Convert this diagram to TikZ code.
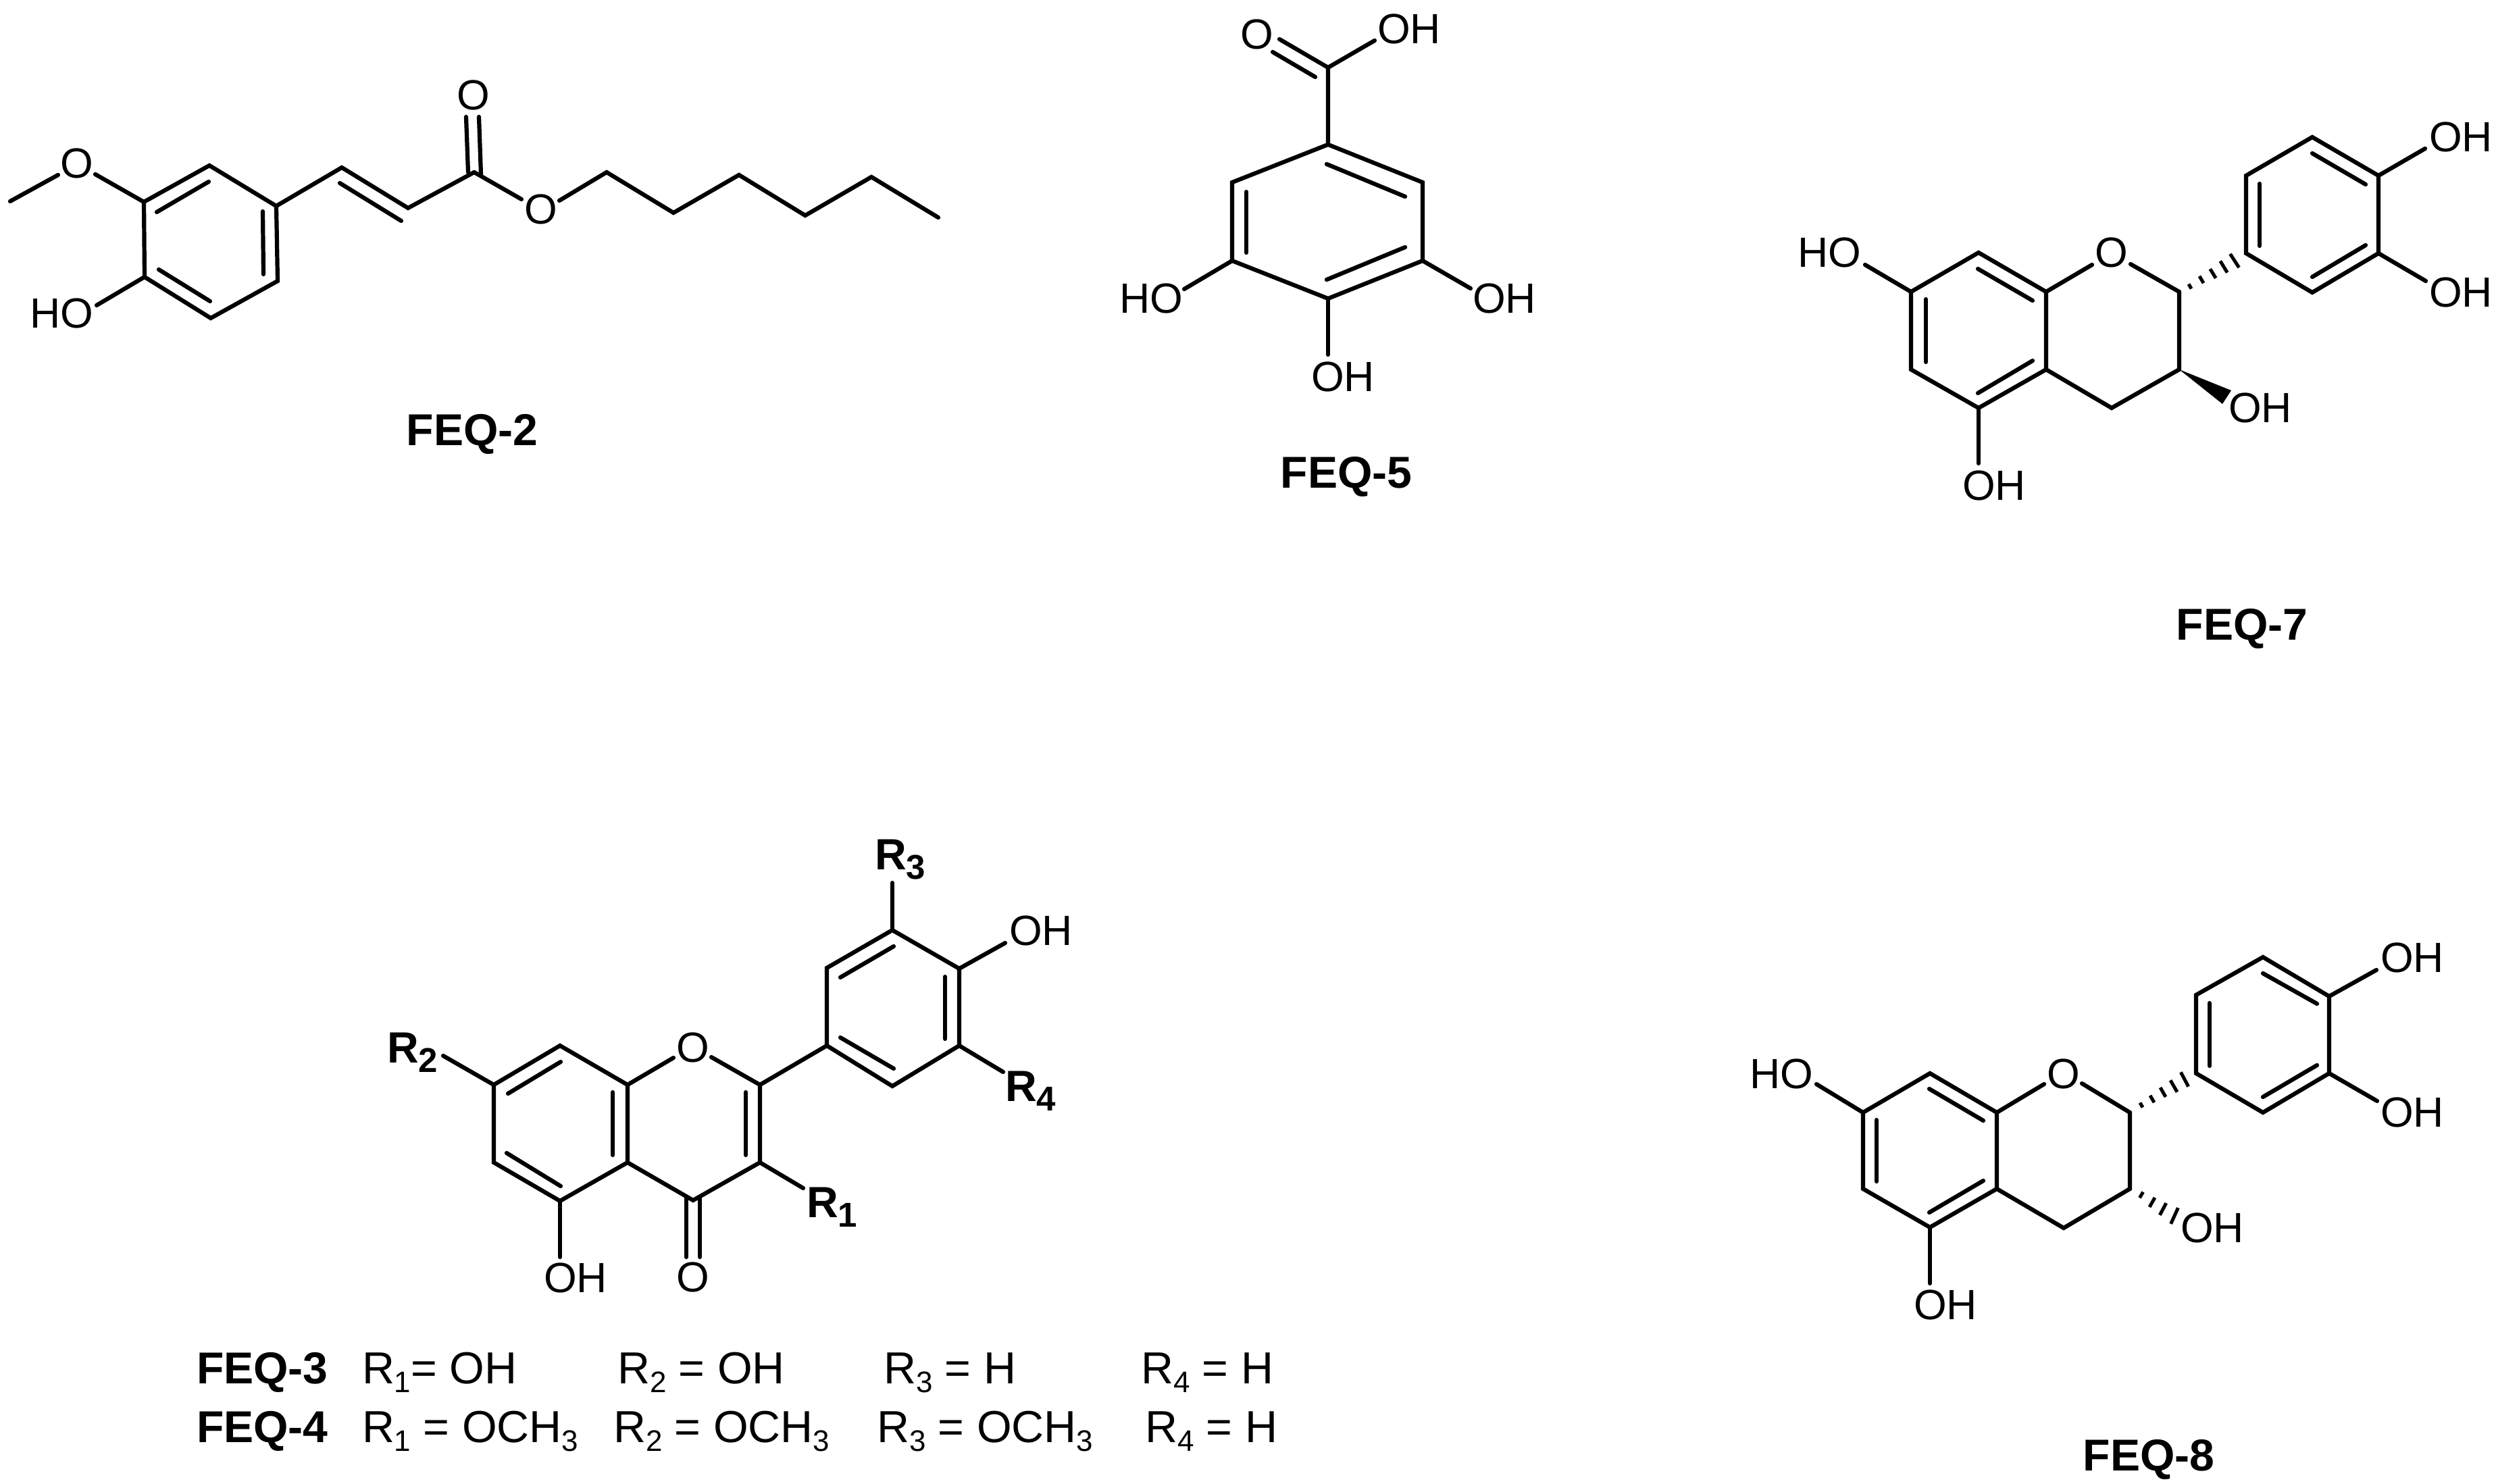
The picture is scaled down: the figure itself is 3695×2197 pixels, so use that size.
\documentclass[tikz,border=0pt]{standalone}
\usepackage{fontspec}
\setmainfont{Liberation Sans}
\usetikzlibrary{calc}
\tikzset{
  bond/.style={draw=black,line width=0.062cm,line cap=round,line join=miter,miter limit=3},
  hashbond/.style={draw=black,line width=0.05cm,line cap=butt},
  wedgebond/.style={fill=black,draw=none},
  atom/.style={anchor=base,inner sep=0pt,outer sep=0pt,yshift=0.02cm,font=\fontsize{17.8}{20}\selectfont},
  title/.style={anchor=base,inner sep=0pt,outer sep=0pt,xshift=-0.04cm,font=\fontsize{18.8}{20}\selectfont\bfseries},
  rlabel/.style={anchor=base west,inner sep=0pt,outer sep=0pt,xshift=-0.07cm,font=\fontsize{18.4}{20}\selectfont\bfseries},
  rowtitle/.style={anchor=base west,inner sep=0pt,outer sep=0pt,xshift=-0.05cm,font=\fontsize{18.8}{20}\selectfont\bfseries},
  rowlabel/.style={anchor=base west,inner sep=0pt,outer sep=0pt,xshift=-0.09cm,font=\fontsize{18.9}{20}\selectfont}
}
% parallel inner line of a double bond, with its two ends named
\newcommand{\dbl}[5]{\coordinate (#1s) at (#2,#3); \coordinate (#1e) at (#4,#5); \draw[bond] (#1s) -- (#1e);}
% bond from a named atom to a named free end
\newcommand{\stub}[4]{\coordinate (#1) at (#3,#4); \draw[bond] (#2) -- (#1);}
% hashed wedge: list of x/y/half length, perpendicular to a--b
\newcommand{\hashes}[3]{\foreach \hx/\hy/\hh in {#3}{\coordinate (hp) at (\hx,\hy); \draw[hashbond] ($(hp)!\hh cm!90:(#2)$) -- ($(hp)!\hh cm!-90:(#2)$);}}
\newcommand{\bigsub}[1]{\raisebox{-0.14cm}{\fontsize{14.5}{14}\selectfont #1}}
\newcommand{\smallsub}[1]{\raisebox{-0.13cm}{\fontsize{12.5}{12}\selectfont #1}}
\begin{document}
\begin{tikzpicture}[x=0.01cm,y=-0.01cm]
\useasboundingbox[fill=white] (0,0) rectangle (3695,2197);

%% FEQ-2
\coordinate (a1) at (213,299); \coordinate (a2) at (310,245); \coordinate (a3) at (409,305);
\coordinate (a4) at (411,416); \coordinate (a5) at (312,471); \coordinate (a6) at (214,410);
\draw[bond] (a1) -- (a2) -- (a3) -- (a4) -- (a5) -- (a6) -- cycle;
\dbl{ai1}{309}{269}{232}{314}
\dbl{ai2}{389}{313}{390}{406}
\dbl{ai3}{235}{399}{311}{446}
\coordinate (a7) at (506,248); \coordinate (a8) at (604,308); \coordinate (a9) at (702,255);
\draw[bond] (a3) -- (a7) -- (a8) -- (a9);
\dbl{ai4}{503}{271}{594}{327}
\dbl{ai5}{690}{173}{693}{255}
\dbl{ai6}{709}{173}{712}{258}
\stub{ae1}{a9}{772}{295}
\coordinate (a10) at (828,297); \coordinate (a11) at (898,255); \coordinate (a12) at (997,315);
\coordinate (a13) at (1094,259); \coordinate (a14) at (1192,319); \coordinate (a15) at (1290,262); \coordinate (a16) at (1389,322);
\draw[bond] (a10) -- (a11) -- (a12) -- (a13) -- (a14) -- (a15) -- (a16);
\stub{ae2}{a1}{141}{258}
\coordinate (ame) at (15,298); \coordinate (ame2) at (86,259);
\draw[bond] (ame) -- (ame2);
\stub{ae3}{a6}{143}{452}
\node[atom] (aO1) at (114,266) {O};
\node[atom] (aO2) at (701,165) {O};
\node[atom] (aO3) at (801,334) {O};
\node[atom] (aHO) at (91,488) {HO};
\node[title] (aT) at (703,659) {FEQ-2};

%% FEQ-5
\coordinate (b1) at (1966,214); \coordinate (b2) at (2106,270); \coordinate (b3) at (2106,386);
\coordinate (b4) at (1966,442); \coordinate (b5) at (1824,386); \coordinate (b6) at (1824,270);
\draw[bond] (b1) -- (b2) -- (b3) -- (b4) -- (b5) -- (b6) -- cycle;
\dbl{bi1}{1964}{243}{2080}{291}
\dbl{bi2}{1845}{284}{1845}{374}
\dbl{bi3}{1964}{414}{2080}{366}
\coordinate (b7) at (1966,100);
\coordinate (be0) at (1894,58);
\draw[bond] (b1) -- (b7) -- (be0);
\dbl{bi4}{1884}{77}{1947}{114}
\stub{be1}{b7}{2035}{60}
\stub{be2}{b5}{1753}{428}
\stub{be3}{b3}{2177}{427}
\stub{be4}{b4}{1966}{525}
\node[atom] (bO) at (1861,75) {O};
\node[atom] (bOH1) at (2086,67) {OH};
\node[atom] (bOH2) at (1704,466) {HO};
\node[atom] (bOH3) at (2227,466) {OH};
\node[atom] (bOH4) at (1988,581) {OH};
\node[title] (bT) at (1997,722) {FEQ-5};

%% FEQ-7
\coordinate (c1) at (2829,432); \coordinate (c2) at (2929,374); \coordinate (c3) at (3029,432);
\coordinate (c4) at (3029,547); \coordinate (c5) at (2929,604); \coordinate (c6) at (2829,547);
\draw[bond] (c1) -- (c2) -- (c3) -- (c4) -- (c5) -- (c6) -- cycle;
\dbl{ci1}{2928}{398}{3009}{445}
\dbl{ci2}{2851}{443}{2851}{536}
\dbl{ci3}{2928}{582}{3009}{534}
\coordinate (c7) at (3226,432); \coordinate (c8) at (3226,547); \coordinate (c9) at (3126,604);
\draw[bond] (c7) -- (c8) -- (c9) -- (c4);
\stub{ce1}{c3}{3097}{392}
\stub{ce2}{c7}{3154}{391}
\coordinate (d1) at (3325,375); \coordinate (d2) at (3325,260); \coordinate (d3) at (3423,203);
\coordinate (d4) at (3521,260); \coordinate (d5) at (3521,375); \coordinate (d6) at (3423,433);
\draw[bond] (d1) -- (d2) -- (d3) -- (d4) -- (d5) -- (d6) -- cycle;
\dbl{di1}{3345}{272}{3345}{364}
\dbl{di2}{3423}{227}{3502}{273}
\dbl{di3}{3502}{363}{3423}{410}
\hashes{c7}{d1}{3242/424/0.04,3259/414/0.06,3276/405/0.08,3292/395/0.10,3308/386/0.12}
\coordinate (cw1) at (3303,578); \coordinate (cw2) at (3290,598);
\fill[wedgebond] (c8) -- (cw1) -- (cw2) -- cycle;
\stub{ce3}{c1}{2761}{392}
\stub{ce4}{c5}{2929}{686}
\stub{ce5}{d4}{3590}{220}
\stub{ce6}{d5}{3591}{416}
\node[atom] (cO) at (3126,398) {O};
\node[atom] (cHO) at (2708,398) {HO};
\node[atom] (cOH1) at (2952,742) {OH};
\node[atom] (cOH2) at (3346,627) {OH};
\node[atom] (cOH3) at (3643,227) {OH};
\node[atom] (cOH4) at (3643,456) {OH};
\node[title] (cT) at (3323,947) {FEQ-7};

%% FEQ-3 / FEQ-4
\coordinate (e1) at (731,1606); \coordinate (e2) at (829,1548); \coordinate (e3) at (929,1606);
\coordinate (e4) at (929,1721); \coordinate (e5) at (829,1778); \coordinate (e6) at (731,1721);
\draw[bond] (e1) -- (e2) -- (e3) -- (e4) -- (e5) -- (e6) -- cycle;
\dbl{ei1}{752}{1619}{830}{1572}
\dbl{ei2}{907}{1617}{907}{1710}
\dbl{ei3}{750}{1707}{830}{1756}
\coordinate (e7) at (1125,1606); \coordinate (e8) at (1125,1721); \coordinate (e9) at (1026,1777);
\draw[bond] (e7) -- (e8) -- (e9) -- (e4);
\dbl{ei4}{1104}{1617}{1104}{1710}
\dbl{ei5}{1016}{1772}{1016}{1861}
\dbl{ei6}{1036}{1772}{1036}{1861}
\stub{ee1}{e3}{997}{1566}
\stub{ee2}{e7}{1053}{1565}
\coordinate (f1) at (1224,1548); \coordinate (f2) at (1224,1433); \coordinate (f3) at (1321,1377);
\coordinate (f4) at (1420,1434); \coordinate (f5) at (1420,1548); \coordinate (f6) at (1321,1608);
\draw[bond] (f1) -- (f2) -- (f3) -- (f4) -- (f5) -- (f6) -- cycle;
\draw[bond] (e7) -- (f1);
\dbl{fi1}{1244}{1447}{1323}{1401}
\dbl{fi2}{1399}{1446}{1399}{1538}
\dbl{fi3}{1244}{1536}{1323}{1582}
\stub{ee3}{e1}{656}{1563}
\stub{ee4}{f3}{1321}{1307}
\stub{ee5}{f4}{1488}{1396}
\stub{ee6}{f5}{1485}{1587}
\stub{ee7}{e8}{1189}{1759}
\stub{ee8}{e5}{829}{1861}
\node[atom] (eO1) at (1026,1574) {O};
\node[atom] (eO2) at (1026,1914) {O};
\node[atom] (eOH1) at (852,1915) {OH};
\node[atom] (eOH2) at (1541,1401) {OH};
\node[rlabel] (eR2) at (580,1573) {R\bigsub{2}};
\node[rlabel] (eR3) at (1302,1287) {R\bigsub{3}};
\node[rlabel] (eR4) at (1495,1630) {R\bigsub{4}};
\node[rlabel] (eR1) at (1201,1802) {R\bigsub{1}};
% table
\node[rowtitle] (r1) at (296,2048) {FEQ-3};
\node[rowlabel] (r1a) at (545,2048) {R\smallsub{1}= OH};
\node[rowlabel] (r1b) at (923,2048) {R\smallsub{2} = OH};
\node[rowlabel] (r1c) at (1317,2048) {R\smallsub{3} = H};
\node[rowlabel] (r1d) at (1698,2048) {R\smallsub{4} = H};
\node[rowtitle] (r2) at (296,2135) {FEQ-4};
\node[rowlabel] (r2a) at (545,2135) {R\smallsub{1} = OCH\smallsub{3}};
\node[rowlabel] (r2b) at (917,2135) {R\smallsub{2} = OCH\smallsub{3}};
\node[rowlabel] (r2c) at (1307,2135) {R\smallsub{3} = OCH\smallsub{3}};
\node[rowlabel] (r2d) at (1704,2135) {R\smallsub{4} = H};

%% FEQ-8
\coordinate (g1) at (2758,1647); \coordinate (g2) at (2857,1589); \coordinate (g3) at (2956,1647);
\coordinate (g4) at (2956,1760); \coordinate (g5) at (2857,1817); \coordinate (g6) at (2758,1760);
\draw[bond] (g1) -- (g2) -- (g3) -- (g4) -- (g5) -- (g6) -- cycle;
\dbl{gi1}{2856}{1612}{2936}{1659}
\dbl{gi2}{2778}{1658}{2778}{1749}
\dbl{gi3}{2856}{1795}{2936}{1748}
\coordinate (g7) at (3153,1647); \coordinate (g8) at (3153,1760); \coordinate (g9) at (3055,1818);
\draw[bond] (g7) -- (g8) -- (g9) -- (g4);
\stub{ge1}{g3}{3026}{1605}
\stub{ge2}{g7}{3082}{1604}
\coordinate (h1) at (3251,1589); \coordinate (h2) at (3251,1473); \coordinate (h3) at (3350,1417);
\coordinate (h4) at (3448,1475); \coordinate (h5) at (3448,1589); \coordinate (h6) at (3350,1647);
\draw[bond] (h1) -- (h2) -- (h3) -- (h4) -- (h5) -- (h6) -- cycle;
\dbl{hi1}{3271}{1485}{3271}{1578}
\dbl{hi2}{3350}{1441}{3430}{1486}
\dbl{hi3}{3430}{1577}{3350}{1624}
\hashes{g7}{h1}{3170/1636/0.04,3186/1627/0.06,3202/1617/0.08,3218/1608/0.10,3234/1598/0.12}
\coordinate (ghe) at (3230,1805);
\hashes{g8}{ghe}{3170/1769/0.05,3186/1780/0.08,3202/1790/0.10,3219/1800/0.13}
\stub{ge3}{g1}{2689}{1605}
\stub{ge4}{g5}{2857}{1900}
\stub{ge5}{h4}{3518}{1436}
\stub{ge6}{h5}{3519}{1630}
\node[atom] (gO) at (3055,1613) {O};
\node[atom] (gHO) at (2637,1613) {HO};
\node[atom] (gOH1) at (2880,1955) {OH};
\node[atom] (gOH2) at (3275,1841) {OH};
\node[atom] (gOH3) at (3571,1441) {OH};
\node[atom] (gOH4) at (3571,1670) {OH};
\node[title] (gT) at (3185,2177) {FEQ-8};
\end{tikzpicture}
\end{document}
